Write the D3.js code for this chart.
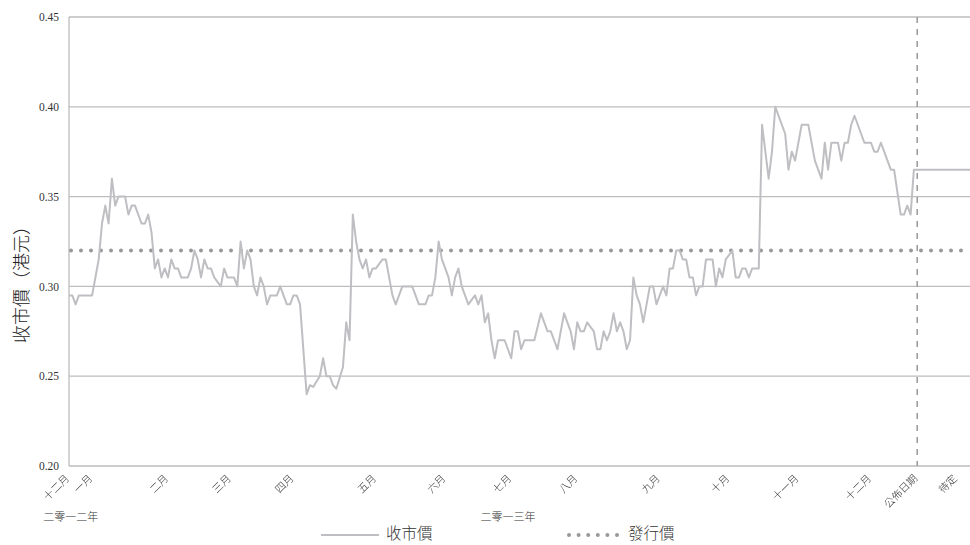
<!DOCTYPE html>
<html lang="zh-Hant">
<head>
    <meta charset="UTF-8">
    <title>收市價</title>
    <style>
        body { margin: 0; background: #fff; }
        .tick-num { font-family: "Liberation Serif", "DejaVu Serif", serif; font-size: 11.5px; fill: #333; }
        .cjk { font-family: "Noto Sans CJK TC", "Noto Sans CJK SC", sans-serif; font-weight: 300; }
        .x-labels { filter: grayscale(1); }
    </style>
</head>
<body>
<div id="chart"></div>
<script src="https://d3js.org/d3.v7.min.js"></script>
<script>
    // y ticks
    var yTicks = [0.20, 0.25, 0.30, 0.35, 0.40, 0.45];

    // category axis: trading-day index of each label
    var monthLabels = ["十二月", "一月", "二月", "三月", "四月", "五月", "六月", "七月", "八月", "九月", "十月", "十一月", "十二月", "公佈日期", "待定"];
    var monthDays = [0, 7, 30, 49, 68, 93, 114, 134, 154, 179, 200, 221, 243, 257, 269];
    var yearLabels = ["二零一二年", "二零一三年"];
    var yearDays = [0.5, 133];

    var lastDay = 273;
    var announceDay = 257;
    var issuePrice = 0.32;

    // closing price [day, HK$]
    var closeSeries = [
        [0, .295], [1, .295], [2, .29], [3, .295], [7, .295], [9, .315], [10, .335], [11, .345],
        [12, .335], [13, .36], [14, .345], [15, .35], [17, .35], [18, .34], [19, .345], [20, .345],
        [22, .335], [23, .335], [24, .34], [25, .33], [26, .31], [27, .315], [28, .305], [29, .31],
        [30, .305], [31, .315], [32, .31], [33, .31], [34, .305], [36, .305], [37, .31], [38, .32],
        [39, .315], [40, .305], [41, .315], [42, .31], [43, .31], [44, .305], [46, .30], [47, .31],
        [48, .305], [50, .305], [51, .30], [52, .325], [53, .31], [54, .32], [55, .315], [56, .30],
        [57, .295], [58, .305], [59, .30], [60, .29], [61, .295], [63, .295], [64, .30], [65, .295],
        [66, .29], [67, .29], [68, .295], [69, .295], [70, .29], [72, .24], [73, .245], [74, .244],
        [75, .247], [76, .25], [77, .26], [78, .25], [79, .25], [80, .245], [81, .243], [83, .255],
        [84, .28], [85, .27], [86, .34], [87, .325], [88, .315], [89, .31], [90, .315], [91, .305],
        [92, .31], [93, .31], [95, .315], [96, .315], [97, .305], [98, .295], [99, .29], [101, .30],
        [104, .30], [106, .29], [108, .29], [109, .295], [110, .295], [111, .305], [112, .325], [113, .315],
        [115, .305], [116, .295], [117, .305], [118, .31], [119, .30], [121, .29], [123, .295], [124, .29],
        [125, .295], [126, .28], [127, .285], [128, .27], [129, .26], [130, .27], [132, .27], [134, .26],
        [135, .275], [136, .275], [137, .265], [138, .27], [141, .27], [143, .285], [145, .275], [146, .275],
        [148, .265], [150, .285], [152, .275], [153, .265], [154, .28], [155, .275], [156, .275], [157, .28],
        [159, .275], [160, .265], [161, .265], [162, .275], [163, .27], [164, .275], [165, .285], [166, .275],
        [167, .28], [168, .275], [169, .265], [170, .27], [171, .305], [172, .295], [173, .29], [174, .28],
        [176, .30], [177, .30], [178, .29], [179, .295], [180, .30], [181, .295], [182, .31], [183, .31],
        [184, .32], [185, .32], [186, .315], [187, .315], [188, .305], [189, .305], [190, .295], [191, .30],
        [192, .30], [193, .315], [195, .315], [196, .30], [197, .31], [198, .305], [199, .315], [201, .32],
        [202, .305], [203, .305], [204, .31], [205, .31], [206, .305], [207, .31], [209, .31], [210, .39],
        [212, .36], [213, .375], [214, .40], [217, .385], [218, .365], [219, .375], [220, .37], [222, .39],
        [224, .39], [226, .37], [228, .36], [229, .38], [230, .365], [231, .38], [233, .38], [234, .37],
        [235, .38], [236, .38], [237, .39], [238, .395], [240, .385], [241, .38], [243, .38], [244, .375],
        [245, .375], [246, .38], [247, .375], [249, .365], [250, .365], [252, .34], [253, .34], [254, .345],
        [255, .34], [256, .365], [257, .365], [273, .365]
    ];

    var width = 970, height = 545;
    var margin = { top: 17, right: 0, bottom: 79, left: 69 };

    var svg = d3.select("#chart").append("svg")
        .attr("width", width)
        .attr("height", height);

    var x = d3.scaleLinear().domain([0, lastDay]).range([margin.left, width - margin.right]);
    var y = d3.scaleLinear().domain([0.20, 0.45]).range([height - margin.bottom, margin.top]);

    // horizontal grid lines
    svg.append("g").selectAll("line")
        .data(yTicks)
        .enter().append("line")
        .attr("x1", margin.left).attr("x2", width - margin.right)
        .attr("y1", function(d) { return y(d); }).attr("y2", function(d) { return y(d); })
        .attr("stroke", "#bdbdbd").attr("stroke-width", 1.3);

    // left axis line
    svg.append("line")
        .attr("x1", margin.left).attr("x2", margin.left)
        .attr("y1", y(0.45)).attr("y2", y(0.20))
        .attr("stroke", "#bdbdbd").attr("stroke-width", 1.3);

    // y axis (labels only)
    var yAxis = d3.axisLeft(y).tickValues(yTicks).tickFormat(d3.format(".2f")).tickSize(0).tickPadding(10);
    var gy = svg.append("g").attr("transform", "translate(" + margin.left + ",0)").call(yAxis);
    gy.select(".domain").remove();
    gy.selectAll("text").attr("class", "tick-num").attr("font-family", null).attr("font-size", null).attr("fill", null);

    // y title
    svg.append("text")
        .attr("class", "cjk")
        .attr("transform", "translate(22,280) rotate(-90)")
        .attr("text-anchor", "middle")
        .attr("dy", "0.36em")
        .attr("font-size", "18px")
        .attr("font-weight", 400)
        .attr("fill", "#222")
        .text("收市價（港元）");

    // x labels
    svg.append("g").attr("class", "x-labels").selectAll("text")
        .data(monthLabels)
        .enter().append("text")
        .attr("class", "cjk")
        .attr("transform", function(d, i) { return "translate(" + (x(monthDays[i]) + 1) + ",479) rotate(-45)"; })
        .attr("text-anchor", "end")
        .attr("font-size", "10.5px")
        .attr("fill", "#333")
        .text(function(d) { return d; });

    svg.append("g").selectAll("text")
        .data(yearLabels)
        .enter().append("text")
        .attr("class", "cjk")
        .attr("x", function(d, i) { return x(yearDays[i]); })
        .attr("y", 521)
        .attr("text-anchor", "middle")
        .attr("font-size", "11px")
        .attr("fill", "#333")
        .text(function(d) { return d; });

    // issue price dotted line
    svg.append("line")
        .attr("x1", margin.left + 2).attr("x2", width - margin.right)
        .attr("y1", y(issuePrice)).attr("y2", y(issuePrice))
        .attr("stroke", "#999").attr("stroke-width", 4)
        .attr("stroke-linecap", "round")
        .attr("stroke-dasharray", "0,10");

    // announcement date marker
    svg.append("line")
        .attr("x1", x(announceDay)).attr("x2", x(announceDay))
        .attr("y1", y(0.45)).attr("y2", y(0.20))
        .attr("stroke", "#999").attr("stroke-width", 1.5)
        .attr("stroke-dasharray", "6,6");

    // closing price
    var line = d3.line()
        .x(function(d) { return x(d[0]); })
        .y(function(d) { return y(d[1]); });

    svg.append("path")
        .datum(closeSeries)
        .attr("d", line)
        .attr("fill", "none")
        .attr("stroke", "#bfbfc3")
        .attr("stroke-width", 2)
        .attr("stroke-linejoin", "round");

    // legend
    var legend = svg.append("g").attr("transform", "translate(0,535)");
    legend.append("line")
        .attr("x1", 321).attr("x2", 379).attr("y1", 0).attr("y2", 0)
        .attr("stroke", "#bfbfc3").attr("stroke-width", 2);
    legend.append("text")
        .attr("class", "cjk").attr("x", 386).attr("y", -1).attr("dy", "0.34em")
        .attr("font-size", "15.5px").attr("fill", "#333")
        .text("收市價");
    legend.append("line")
        .attr("x1", 569).attr("x2", 619).attr("y1", 0).attr("y2", 0)
        .attr("stroke", "#999").attr("stroke-width", 4)
        .attr("stroke-linecap", "round")
        .attr("stroke-dasharray", "0,9.6");
    legend.append("text")
        .attr("class", "cjk").attr("x", 628).attr("y", -1).attr("dy", "0.34em")
        .attr("font-size", "15.5px").attr("fill", "#333")
        .text("發行價");
</script>
</body>
</html>
